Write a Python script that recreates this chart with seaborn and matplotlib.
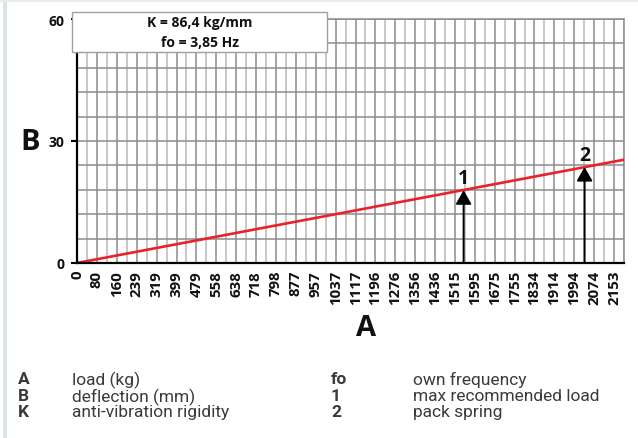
import matplotlib
matplotlib.use("Agg")
import matplotlib.pyplot as plt
from matplotlib.patches import Rectangle
import seaborn as sns
import pandas as pd
import numpy as np

# ---- data ----
x_tick_labels = [0, 80, 160, 239, 319, 399, 479, 558, 638, 718, 798, 877, 957, 1037,
                 1117, 1196, 1276, 1356, 1436, 1515, 1595, 1675, 1755, 1834, 1914,
                 1994, 2074, 2153]
y_tick_labels = [0, 30, 60]
x_max = 2193
y_max = 60
y_grid_step = 6
line_load = [0, 2193]
line_deflection = [0, 25.4]
arrow_load = [1550, 2035]
arrow_deflection = [17.9, 23.6]
arrow_names = ["1", "2"]
info_lines = ["K = 86,4 kg/mm", "fo = 3,85 Hz"]
legend_left = [("A", "load (kg)"), ("B", "deflection (mm)"), ("K", "anti-vibration rigidity")]
legend_right = [("fo", "own frequency"), ("1", "max recommended load"), ("2", "pack spring")]

sns.set_theme(style="white")
plt.rcParams['font.family'] = ['Open Sans', 'DejaVu Sans']

W, H = 638, 439
fig = plt.figure(figsize=(W / 100, H / 100), dpi=100)
fig.patch.set_facecolor("white")

def fx(px):
    return px / W

def fy(py):
    return 1 - py / H

# frame strips
fig.add_artist(Rectangle((fx(3), 0), fx(3.5), 1, transform=fig.transFigure,
                         facecolor="#dde6dd", edgecolor="none", zorder=0))
fig.add_artist(Rectangle((0, fy(2.5)), 1, 2.5 / H, transform=fig.transFigure,
                         facecolor="#ebebeb", edgecolor="none", zorder=0))

ax_l, ax_r, ax_t, ax_b = 77, 624, 20, 264
ax = fig.add_axes([fx(ax_l), fy(ax_b), fx(ax_r - ax_l), (ax_b - ax_t) / H])

df = pd.DataFrame({"load": line_load, "deflection": line_deflection})
sns.lineplot(data=df, x="load", y="deflection", ax=ax, color="#e8212b",
             linewidth=1.9, zorder=5)

ax.set_xlim(0, x_max)
ax.set_ylim(0, y_max)

# ticks and grid
ax.set_xticks(x_tick_labels)
ax.set_xticklabels([str(v) for v in x_tick_labels], rotation=90,
                   fontsize=10.8, fontweight="bold", color="#111111")
mids = [(a + b) / 2 for a, b in zip(x_tick_labels[:-1], x_tick_labels[1:])] + [x_max]
ax.set_xticks(mids, minor=True)
ax.set_yticks(y_tick_labels)
ax.set_yticklabels([str(v) for v in y_tick_labels], fontsize=10,
                   fontweight="bold", color="#111111")
ax.set_yticks(np.arange(0, y_max + 0.1, y_grid_step), minor=True)
ax.tick_params(axis="x", which="both", length=0, pad=5)
ax.tick_params(axis="y", which="major", length=4, width=1.5, color="black",
               direction="out", pad=5, left=True)
ax.tick_params(axis="y", which="minor", length=0)
ax.grid(True, which="major", axis="x", color="#8c8c8c", linewidth=1.1)
ax.grid(True, which="minor", axis="x", color="#b8b8b8", linewidth=1.1)
ax.grid(True, which="both", axis="y", color="#8c8c8c", linewidth=1.1)
ax.set_axisbelow(True)
ax.set_xlabel("")
ax.set_ylabel("")

for s in ["left", "bottom"]:
    ax.spines[s].set_color("black")
    ax.spines[s].set_linewidth(1.6)
    ax.spines[s].set_zorder(6)
for s in ["top", "right"]:
    ax.spines[s].set_color("#8c8c8c")
    ax.spines[s].set_linewidth(1.1)

# arrows
for xl, yd, name, ly in zip(arrow_load, arrow_deflection, arrow_names, [20.9, 26.6]):
    ax.annotate("", xy=(xl, yd), xytext=(xl, 0),
                arrowprops=dict(arrowstyle="-|>,head_length=0.7,head_width=0.4",
                                color="black", lw=1.4, shrinkA=0, shrinkB=0),
                zorder=7)
    ax.text(xl, ly, name, ha="center", va="center", fontsize=14,
            fontweight="bold", color="#111111", zorder=8)

# axis letters
fig.text(fx(30), fy(143), "B", fontsize=21, fontweight="bold",
         ha="center", va="center", color="#111111")
fig.text(fx(366), fy(329), "A", fontsize=21, fontweight="bold",
         ha="center", va="center", color="#111111")

# info box
fig.add_artist(Rectangle((fx(72), fy(53)), fx(327 - 72), (53 - 13) / H,
                         transform=fig.transFigure, facecolor="white",
                         edgecolor="#a0a0a0", linewidth=1.0, zorder=10))
fig.text(fx(200), fy(23), info_lines[0], fontsize=10, fontweight="bold",
         ha="center", va="center", color="#111111", zorder=11)
fig.text(fx(200), fy(43), info_lines[1], fontsize=10, fontweight="bold",
         ha="center", va="center", color="#111111", zorder=11)

# legend
rows = [380, 397, 413]
lfam = ["Roboto", "DejaVu Sans"]
for (k, d), r in zip(legend_left, rows):
    fig.text(fx(18), fy(r), k, fontsize=12.5, fontweight="bold", family=lfam,
             ha="left", va="center", color="#3a3a3a")
    fig.text(fx(72), fy(r), d, fontsize=12.5, family=lfam,
             ha="left", va="center", color="#3a3a3a")
for (k, d), r in zip(legend_right, rows):
    fig.text(fx(331), fy(r), k, fontsize=12.5, fontweight="bold", family=lfam,
             ha="left", va="center", color="#3a3a3a")
    fig.text(fx(413), fy(r), d, fontsize=12.5, family=lfam,
             ha="left", va="center", color="#3a3a3a")

fig.savefig("out.png", dpi=100)
